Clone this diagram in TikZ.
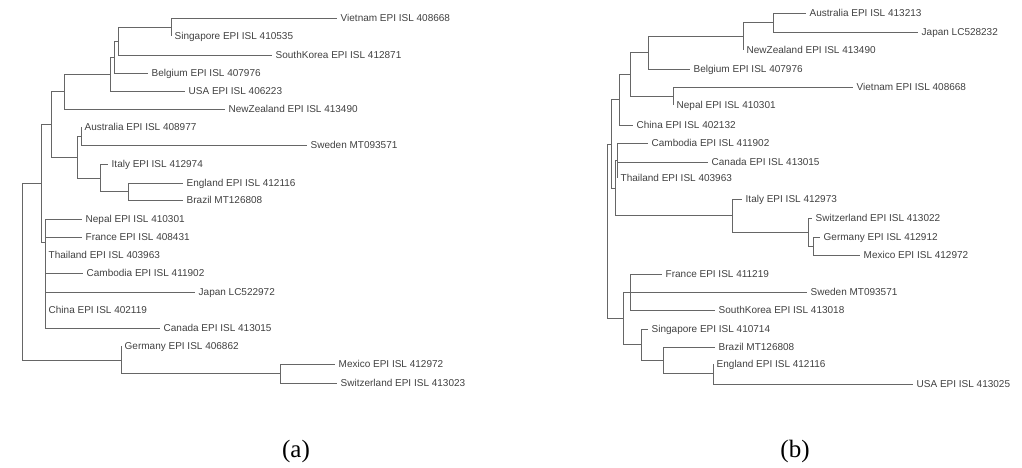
\documentclass[tikz,border=0pt]{standalone}
\usepackage{fontspec}
\setmainfont{Liberation Sans}
\newfontfamily\capfont{Liberation Serif}
\begin{document}
\begin{tikzpicture}[x=1pt,y=-1pt,
   taxon/.style={anchor=west,inner xsep=3.5pt,inner ysep=0pt,
      text height=7pt,text depth=0pt,
      font=\fontsize{10}{12}\selectfont,text=black!75},
   limb/.style={draw=black!60,line width=0.75pt},
   panel/.style={font=\capfont\fontsize{25}{28}\selectfont}]

\useasboundingbox (0,0) rectangle (1022,468);

% tree (a)
\node[taxon] (a-viet) at (337,18)  {Vietnam EPI ISL 408668};
\node[taxon] (a-sing) at (171,36)  {Singapore EPI ISL 410535};
\node[taxon] (a-kor)  at (272,55)  {SouthKorea EPI ISL 412871};
\node[taxon] (a-bel)  at (148,73)  {Belgium EPI ISL 407976};
\node[taxon] (a-usa)  at (185,91)  {USA EPI ISL 406223};
\node[taxon] (a-nz)   at (225,109) {NewZealand EPI ISL 413490};
\node[taxon] (a-aus)  at (81,127)  {Australia EPI ISL 408977};
\node[taxon] (a-swe)  at (307,145) {Sweden MT093571};
\node[taxon] (a-ita)  at (108,164) {Italy EPI ISL 412974};
\node[taxon] (a-eng)  at (183,183) {England EPI ISL 412116};
\node[taxon] (a-bra)  at (183,200) {Brazil MT126808};
\node[taxon] (a-nep)  at (82,219)  {Nepal EPI ISL 410301};
\node[taxon] (a-fra)  at (82,237)  {France EPI ISL 408431};
\node[taxon] (a-tha)  at (45,255)  {Thailand EPI ISL 403963};
\node[taxon] (a-cam)  at (83,273)  {Cambodia EPI ISL 411902};
\node[taxon] (a-jap)  at (195,292) {Japan LC522972};
\node[taxon] (a-chi)  at (45,310)  {China EPI ISL 402119};
\node[taxon] (a-can)  at (160,328) {Canada EPI ISL 413015};
\node[taxon] (a-ger)  at (121,346) {Germany EPI ISL 406862};
\node[taxon] (a-mex)  at (335,364) {Mexico EPI ISL 412972};
\node[taxon] (a-swi)  at (337,383) {Switzerland EPI ISL 413023};

\coordinate (a-vs)   at (171,27);
\coordinate (a-k1)   at (118,41);
\coordinate (a-k2)   at (114,57);
\coordinate (a-k3)   at (110,74);
\coordinate (a-k4)   at (64,91.5);
\coordinate (a-as)   at (81,136);
\coordinate (a-eb)   at (128,191.5);
\coordinate (a-ie)   at (100,178);
\coordinate (a-k5)   at (77,157);
\coordinate (a-k6)   at (51,124);
\coordinate (a-th)   at (45,242);
\coordinate (a-k7)   at (41,183);
\coordinate (a-ms)   at (280,373.5);
\coordinate (a-gm)   at (121,360);
\coordinate (a-root) at (22,271.5);

\draw[limb] (a-vs) |- (a-viet) (a-vs) |- (a-sing);
\draw[limb] (a-k1) |- (a-vs) (a-k1) |- (a-kor);
\draw[limb] (a-k2) |- (a-k1) (a-k2) |- (a-bel);
\draw[limb] (a-k3) |- (a-k2) (a-k3) |- (a-usa);
\draw[limb] (a-k4) |- (a-k3) (a-k4) |- (a-nz);
\draw[limb] (a-as) |- (a-aus) (a-as) |- (a-swe);
\draw[limb] (a-eb) |- (a-eng) (a-eb) |- (a-bra);
\draw[limb] (a-ie) |- (a-ita) (a-ie) |- (a-eb);
\draw[limb] (a-k5) |- (a-as) (a-k5) |- (a-ie);
\draw[limb] (a-k6) |- (a-k4) (a-k6) |- (a-k5);
\draw[limb] (a-th) |- (a-nep) (a-th) |- (a-fra) (a-th) |- (a-tha)
            (a-th) |- (a-cam) (a-th) |- (a-jap) (a-th) |- (a-chi)
            (a-th) |- (a-can);
\draw[limb] (a-k7) |- (a-k6) (a-k7) |- (a-th);
\draw[limb] (a-ms) |- (a-mex) (a-ms) |- (a-swi);
\draw[limb] (a-gm) |- (a-ger) (a-gm) |- (a-ms);
\draw[limb] (a-root) |- (a-k7) (a-root) |- (a-gm);

% tree (b)
\node[taxon] (b-aus)  at (806,13)  {Australia EPI ISL 413213};
\node[taxon] (b-jap)  at (918,32)  {Japan LC528232};
\node[taxon] (b-nz)   at (743,50)  {NewZealand EPI ISL 413490};
\node[taxon] (b-bel)  at (690,69)  {Belgium EPI ISL 407976};
\node[taxon] (b-viet) at (853,87)  {Vietnam EPI ISL 408668};
\node[taxon] (b-nep)  at (673,105) {Nepal EPI ISL 410301};
\node[taxon] (b-chi)  at (633,125) {China EPI ISL 402132};
\node[taxon] (b-cam)  at (648,143) {Cambodia EPI ISL 411902};
\node[taxon] (b-can)  at (708,162) {Canada EPI ISL 413015};
\node[taxon] (b-tha)  at (617,178) {Thailand EPI ISL 403963};
\node[taxon] (b-ita)  at (742,199) {Italy EPI ISL 412973};
\node[taxon] (b-swi)  at (812,218) {Switzerland EPI ISL 413022};
\node[taxon] (b-ger)  at (820,237) {Germany EPI ISL 412912};
\node[taxon] (b-mex)  at (860,255) {Mexico EPI ISL 412972};
\node[taxon] (b-fra)  at (662,274) {France EPI ISL 411219};
\node[taxon] (b-swe)  at (807,292) {Sweden MT093571};
\node[taxon] (b-kor)  at (715,310) {SouthKorea EPI ISL 413018};
\node[taxon] (b-sing) at (648,329) {Singapore EPI ISL 410714};
\node[taxon] (b-bra)  at (715,347) {Brazil MT126808};
\node[taxon] (b-eng)  at (713,364) {England EPI ISL 412116};
\node[taxon] (b-usa)  at (913,384) {USA EPI ISL 413025};

\coordinate (b-aj)   at (773,22.5);
\coordinate (b-nzj)  at (743,36);
\coordinate (b-be)   at (648,52.5);
\coordinate (b-vn)   at (673,96);
\coordinate (b-k1)   at (630,74);
\coordinate (b-ch)   at (619,99.5);
\coordinate (b-cb)   at (617,160);
\coordinate (b-gm)   at (813,246);
\coordinate (b-sw)   at (808,232);
\coordinate (b-it)   at (732,215.5);
\coordinate (b-k2)   at (615,188);
\coordinate (b-k3)   at (611,144);
\coordinate (b-fr)   at (630,292);
\coordinate (b-eu)   at (713,373.5);
\coordinate (b-br)   at (663,360);
\coordinate (b-sg)   at (641,344.5);
\coordinate (b-k4)   at (623,318);
\coordinate (b-root) at (607,231);

\draw[limb] (b-aj) |- (b-aus) (b-aj) |- (b-jap);
\draw[limb] (b-nzj) |- (b-aj) (b-nzj) |- (b-nz);
\draw[limb] (b-be) |- (b-nzj) (b-be) |- (b-bel);
\draw[limb] (b-vn) |- (b-viet) (b-vn) |- (b-nep);
\draw[limb] (b-k1) |- (b-be) (b-k1) |- (b-vn);
\draw[limb] (b-ch) |- (b-k1) (b-ch) |- (b-chi);
\draw[limb] (b-cb) |- (b-cam) (b-cb) |- (b-can) (b-cb) |- (b-tha);
\draw[limb] (b-gm) |- (b-ger) (b-gm) |- (b-mex);
\draw[limb] (b-sw) |- (b-swi) (b-sw) |- (b-gm);
\draw[limb] (b-it) |- (b-ita) (b-it) |- (b-sw);
\draw[limb] (b-k2) |- (b-cb) (b-k2) |- (b-it);
\draw[limb] (b-k3) |- (b-ch) (b-k3) |- (b-k2);
\draw[limb] (b-fr) |- (b-fra) (b-fr) |- (b-swe) (b-fr) |- (b-kor);
\draw[limb] (b-eu) |- (b-eng) (b-eu) |- (b-usa);
\draw[limb] (b-br) |- (b-bra) (b-br) |- (b-eu);
\draw[limb] (b-sg) |- (b-sing) (b-sg) |- (b-br);
\draw[limb] (b-k4) |- (b-fr) (b-k4) |- (b-sg);
\draw[limb] (b-root) |- (b-k3) (b-root) |- (b-k4);

\node[panel] (cap-a) at (296,451) {(a)};
\node[panel] (cap-b) at (795,451) {(b)};

\end{tikzpicture}
\end{document}
